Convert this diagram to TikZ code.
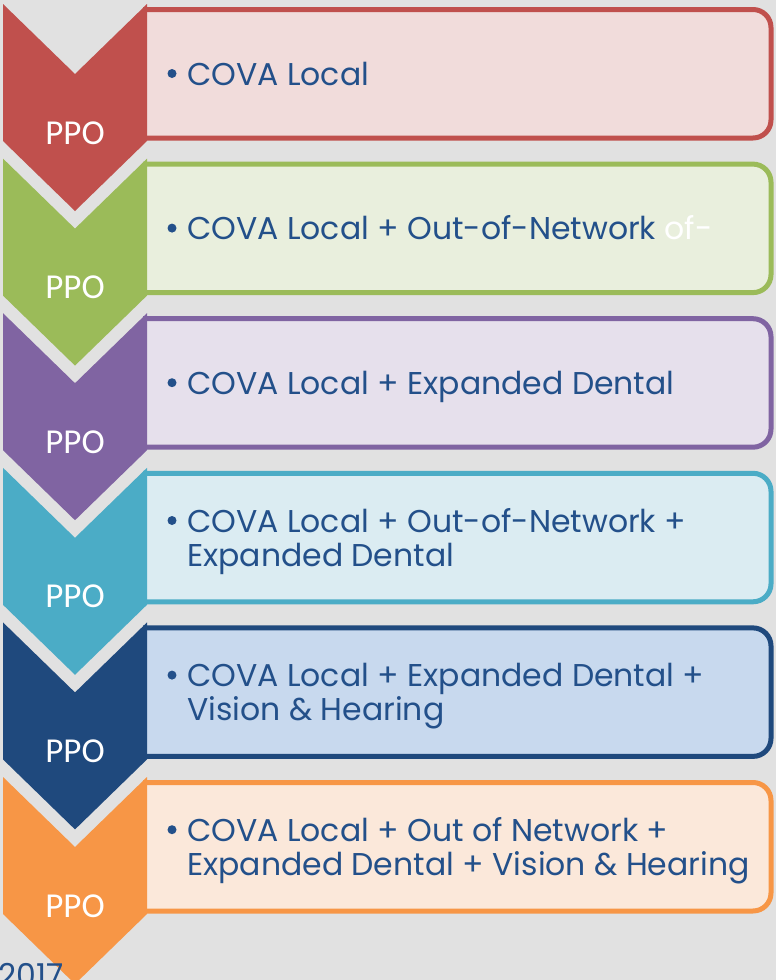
\documentclass[tikz,border=0pt]{standalone}
\usepackage{fontspec}
\setmainfont{Poppins}
\newfontfamily\ppofont{Carlito}
\definecolor{bgcol}{HTML}{E1E1E1}
\definecolor{txtcol}{HTML}{23508A}
\definecolor{e0}{HTML}{C0504D}\definecolor{f0}{HTML}{F1DCDB}
\definecolor{e1}{HTML}{9BBB59}\definecolor{f1}{HTML}{E9EFDD}
\definecolor{e2}{HTML}{8064A2}\definecolor{f2}{HTML}{E6E0EC}
\definecolor{e3}{HTML}{4BACC6}\definecolor{f3}{HTML}{DBECF2}
\definecolor{e4}{HTML}{1F497D}\definecolor{f4}{HTML}{C8D9EE}
\definecolor{e5}{HTML}{F79646}\definecolor{f5}{HTML}{FBE8DA}
\begin{document}
\begin{tikzpicture}[x=1pt,y=-1pt,
  boxstyle/.style={line width=5pt, rounded corners=18pt},
  ppostyle/.style={inner sep=0pt, anchor=base, text=white, font=\ppofont\fontsize{35}{40}\selectfont},
  itemtext/.style={inner sep=0pt, anchor=base west, text=txtcol, font=\fontsize{31.5}{38}\selectfont}]
\fill[bgcol] (0,0) rectangle (776,980);
\useasboundingbox (0,0) rectangle (776,980);
\clip (0,0) rectangle (776,980);
\foreach \k/\by in {0/73.5,1/228.1,2/382.7,3/520.5,4/675.1,5/829.7}{
  \pgfmathsetmacro\dy{154.6*\k}
  \path[boxstyle, fill=f\k, draw=e\k] (143,{9.5+\dy}) -- (771,{9.5+\dy}) -- (771,{138+\dy}) -- (143,{138+\dy});
  \fill[e\k] (3,{4+\dy}) -- (75,{74+\dy}) -- (147,{4+\dy}) -- (147,{141+\dy}) -- (75,{211+\dy}) -- (3,{141+\dy}) -- cycle;
  \node[ppostyle] (ppo\k) at (75,{144+\dy}) {PPO};
  \fill[txtcol] (172,\by) circle (4.5);
}
\node[itemtext] (t0) at (187,85) {COVA Local};
\node[itemtext] (t1) at (187,239.6) {COVA Local + Out-of-Network \textcolor{white}{of-}};
\node[itemtext] (t2) at (187,394.2) {COVA Local + Expanded Dental};
\node[itemtext] (t3a) at (187,532) {COVA Local + Out-of-Network +};
\node[itemtext] (t3b) at (187,566) {Expanded Dental};
\node[itemtext] (t4a) at (187,686.6) {COVA Local + Expanded Dental +};
\node[itemtext] (t4b) at (187,720.6) {Vision \& Hearing};
\node[itemtext] (t5a) at (187,841.2) {COVA Local + Out of Network +};
\node[itemtext] (t5b) at (187,875.2) {Expanded Dental + Vision \& Hearing};
\node[itemtext, anchor=base east] (yr) at (64,986) {2017};
\end{tikzpicture}
\end{document}
